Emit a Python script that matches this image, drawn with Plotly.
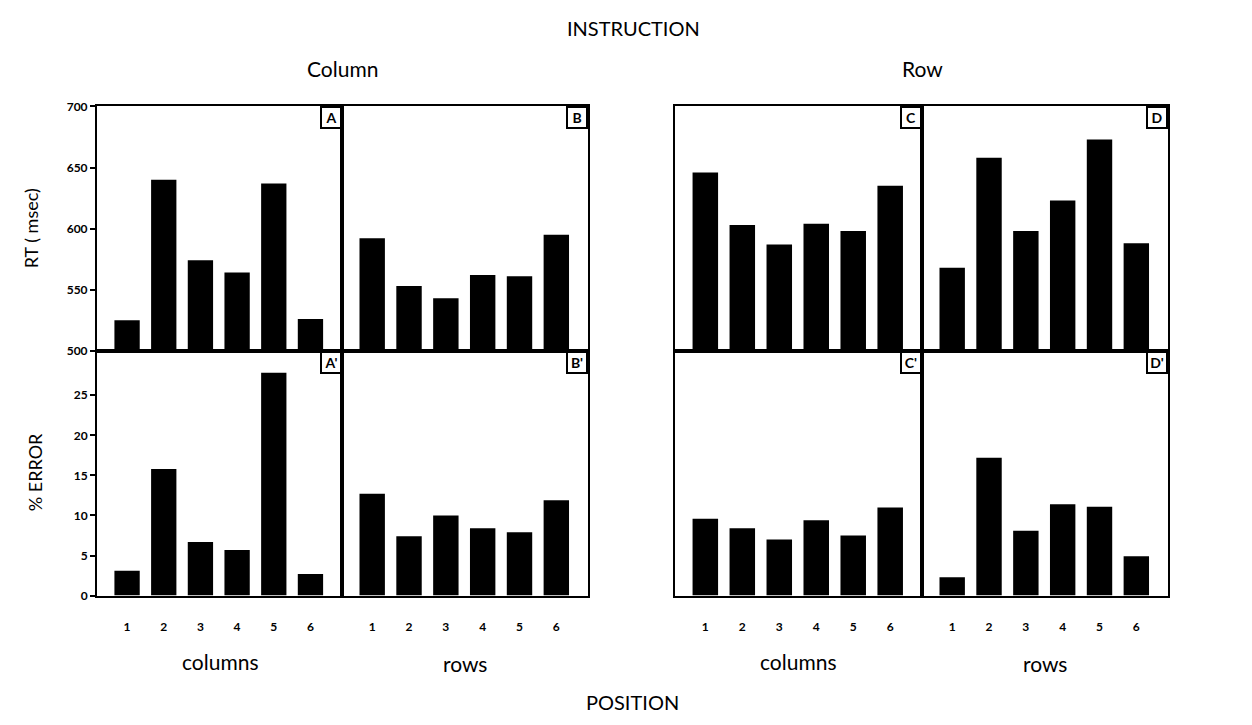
import plotly.graph_objects as go

W, H = 1252, 725

positions = [1, 2, 3, 4, 5, 6]
tick_labels = ["1", "2", "3", "4", "5", "6"]

# RT (msec)
rt_A = [525, 640, 574, 564, 637, 526]   # Column instruction, columns
rt_B = [592, 553, 543, 562, 561, 595]   # Column instruction, rows
rt_C = [646, 603, 587, 604, 598, 635]   # Row instruction, columns
rt_D = [568, 658, 598, 623, 673, 588]   # Row instruction, rows

# % ERROR
err_A = [3.1, 15.8, 6.7, 5.7, 27.8, 2.7]
err_B = [12.7, 7.4, 10.0, 8.4, 7.9, 11.9]
err_C = [9.6, 8.4, 7.0, 9.4, 7.5, 11.0]
err_D = [2.3, 17.2, 8.1, 11.4, 11.1, 4.9]

panel_labels_top = ["A", "B", "C", "D"]
panel_labels_bot = ["A'", "B'", "C'", "D'"]
rt_ticks = [500, 550, 600, 650, 700]
err_ticks = [0, 5, 10, 15, 20, 25]

FONT = "Lato"

# pixel layout of panels
xpix = [(97, 342), (342, 588), (675, 922), (922, 1168)]
ytop = (100.5, 350)
ybot = (350, 600)

def px(a, b):
    return [a / W, b / W]

def py(top, bot):
    return [1 - bot / H, 1 - top / H]

fig = go.Figure()

top_series = [rt_A, rt_B, rt_C, rt_D]
bot_series = [err_A, err_B, err_C, err_D]

layout = dict(
    width=W, height=H,
    margin=dict(l=0, r=0, t=0, b=0),
    paper_bgcolor="white", plot_bgcolor="white",
    showlegend=False,
    font=dict(family=FONT, color="black"),
)

xr = [0.18, 6.86]
annotations = []
for i in range(4):
    ti = i + 1
    bi = i + 5
    xs_t = "x" if ti == 1 else f"x{ti}"
    ys_t = "y" if ti == 1 else f"y{ti}"
    xs_b = f"x{bi}"
    ys_b = f"y{bi}"
    fig.add_trace(go.Bar(x=positions, y=top_series[i], width=0.69,
                         marker=dict(color="black", line=dict(width=0)),
                         xaxis=xs_t, yaxis=ys_t))
    fig.add_trace(go.Bar(x=positions, y=bot_series[i], width=0.69,
                         marker=dict(color="black", line=dict(width=0)),
                         xaxis=xs_b, yaxis=ys_b))
    common_x = dict(range=xr, showgrid=False, zeroline=False, showline=True,
                    mirror=True, linecolor="black", linewidth=2, fixedrange=True)
    layout[f"xaxis{'' if ti == 1 else ti}"] = dict(
        common_x, domain=px(*xpix[i]), anchor=ys_t, showticklabels=False, ticks="")
    layout[f"xaxis{bi}"] = dict(
        common_x, domain=px(*xpix[i]), anchor=ys_b, showticklabels=True, ticks="",
        tickmode="array", tickvals=positions, ticktext=tick_labels,
        tickfont=dict(size=12, family=FONT, weight="bold"), ticklabelstandoff=19)
    common_y = dict(showgrid=False, zeroline=False, showline=True, mirror=True,
                    linecolor="black", linewidth=2, fixedrange=True)
    first = (i == 0)
    layout[f"yaxis{'' if ti == 1 else ti}"] = dict(
        common_y, domain=py(*ytop), anchor=xs_t, range=[500, 700],
        showticklabels=first, ticks="outside" if first else "", ticklen=5, tickwidth=2,
        tickcolor="black", tickmode="array", tickvals=rt_ticks,
        tickfont=dict(size=12, family=FONT, weight="bold"))
    layout[f"yaxis{bi}"] = dict(
        common_y, domain=py(*ybot), anchor=xs_b, range=[0, 30.55],
        showticklabels=first, ticks="outside" if first else "", ticklen=5, tickwidth=2,
        tickcolor="black", tickmode="array", tickvals=err_ticks,
        tickfont=dict(size=12, family=FONT, weight="bold"))
    for lab, xa, ya in ((panel_labels_top[i], xs_t, ys_t), (panel_labels_bot[i], xs_b, ys_b)):
        annotations.append(dict(
            text=f"<b>{lab}</b>", xref=f"{xa} domain", yref=f"{ya} domain",
            x=1, y=1, xanchor="right", yanchor="top", showarrow=False,
            font=dict(size=14, family=FONT), bordercolor="black", borderwidth=2,
            bgcolor="white", width=16, height=17, borderpad=1))

def text_ann(t, xpx, ypx, size, angle=0):
    return dict(text=t, xref="paper", yref="paper", x=xpx / W, y=1 - ypx / H,
                xanchor="center", yanchor="middle", showarrow=False, textangle=angle,
                font=dict(size=size, family=FONT, color="black"))

annotations += [
    text_ann("INSTRUCTION", 633, 20, 20),
    text_ann("Column", 342, 62, 21),
    text_ann("Row", 922, 62, 21),
    text_ann("RT ( msec)", 31, 225, 18, -90),
    text_ann("% ERROR", 35, 474, 18, -90),
    text_ann("columns", 220, 667, 21),
    text_ann("rows", 465, 669, 21),
    text_ann("columns", 798, 667, 21),
    text_ann("rows", 1045, 669, 21),
    text_ann("POSITION", 632, 709, 20),
]
layout["annotations"] = annotations
fig.update_layout(**layout)
fig.write_html("out.html")
